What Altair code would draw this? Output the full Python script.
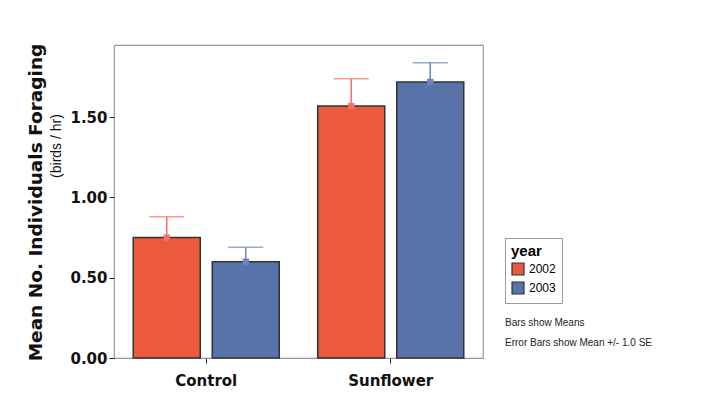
import altair as alt
import pandas as pd

groups = ["Control", "Control", "Sunflower", "Sunflower"]
years = ["2002", "2003", "2002", "2003"]
means = [0.75, 0.60, 1.57, 1.72]
upper = [0.88, 0.69, 1.74, 1.84]

df = pd.DataFrame({"group": groups, "year": years, "mean": means, "upper": upper})

year_domain = ["2002", "2003"]
bar_colors = ["#EC5A3E", "#5872AA"]
err_colors = ["#EE7562", "#6B86BE"]

note1 = ["Bars show Means"]
note2 = ["Error Bars show Mean +/- 1.0 SE"]

xenc = alt.X("group:N", title=None,
             scale=alt.Scale(paddingInner=0, paddingOuter=0),
             axis=alt.Axis(labelAngle=0, labelFont="DejaVu Sans", labelFontWeight="bold",
                           labelFontSize=15, labelColor="#111", tickColor="#222",
                           tickSize=5, labelPadding=10, domain=False, grid=False))
xoff = alt.XOffset("year:N", scale=alt.Scale(paddingInner=0.152, paddingOuter=0.2435))
yscale = alt.Scale(domain=[0, 1.95], nice=False)

bars = alt.Chart(df).mark_bar(stroke="#333333", strokeWidth=1.5).encode(
    x=xenc,
    xOffset=xoff,
    y=alt.Y("mean:Q", scale=yscale,
            title="Mean No. Individuals Foraging",
            axis=alt.Axis(values=[0, 0.5, 1.0, 1.5], format=".2f", grid=False, domain=False,
                          labelFont="DejaVu Sans", labelFontWeight="bold", labelFontSize=15,
                          labelColor="#111", tickColor="#222", tickSize=5, labelPadding=2,
                          titleFont="DejaVu Sans", titleFontWeight="bold", titleFontSize=18.5,
                          titleColor="#111", titleAngle=270, titleX=-79, titleY=157,
                          titleAlign="center", titleBaseline="middle")),
    fill=alt.Fill("year:N", scale=alt.Scale(domain=year_domain, range=bar_colors),
                  legend=alt.Legend(title="year", orient="none", legendX=391, legendY=193,
                                    strokeColor="#999999", padding=6, symbolType="square",
                                    symbolSize=144, symbolStrokeColor="#333",
                                    symbolStrokeWidth=1.2, titleFont="Liberation Sans",
                                    titleFontSize=15, titleFontWeight="bold",
                                    labelFont="Liberation Sans", labelFontSize=12,
                                    rowPadding=1, titlePadding=3, labelOffset=4)),
)

err = alt.Chart(df).mark_rule(strokeWidth=1.5).encode(
    x="group:N", xOffset=xoff,
    y=alt.Y("mean:Q", scale=yscale), y2="upper:Q",
    color=alt.Color("year:N", scale=alt.Scale(domain=year_domain, range=err_colors), legend=None),
)
caps = alt.Chart(df).mark_tick(size=35, thickness=1.5, orient="horizontal").encode(
    x="group:N", xOffset=xoff,
    y=alt.Y("upper:Q", scale=yscale),
    color=alt.Color("year:N", scale=alt.Scale(domain=year_domain, range=err_colors), legend=None),
)
dots = alt.Chart(df).mark_square(size=40, opacity=1).encode(
    x="group:N", xOffset=xoff,
    y=alt.Y("mean:Q", scale=yscale),
    color=alt.Color("year:N", scale=alt.Scale(domain=year_domain, range=err_colors), legend=None),
)

subtitle = alt.Chart(pd.DataFrame({"t": ["(birds / hr)"]})).mark_text(
    angle=270, font="Liberation Sans", fontSize=14, color="#111", align="center",
    baseline="middle").encode(x=alt.value(-57), y=alt.value(101), text="t:N")

text1 = alt.Chart(pd.DataFrame({"t": note1})).mark_text(
    font="Liberation Sans", fontSize=10, color="#222", align="left", baseline="middle"
).encode(x=alt.value(391), y=alt.value(278), text="t:N")
text2 = alt.Chart(pd.DataFrame({"t": note2})).mark_text(
    font="Liberation Sans", fontSize=10, color="#222", align="left", baseline="middle"
).encode(x=alt.value(391), y=alt.value(298), text="t:N")

chart = alt.layer(bars, err, caps, dots, subtitle, text1, text2).resolve_scale(
    color="independent"
).properties(
    width=369, height=313,
    autosize=alt.AutoSizeParams(type="none"),
    padding={"left": 106, "top": 37, "right": 222, "bottom": 44},
    background="white",
).configure_view(stroke="#999999", strokeWidth=1.2)

chart.save("out.html", embed_options={"renderer": "svg", "actions": False})
